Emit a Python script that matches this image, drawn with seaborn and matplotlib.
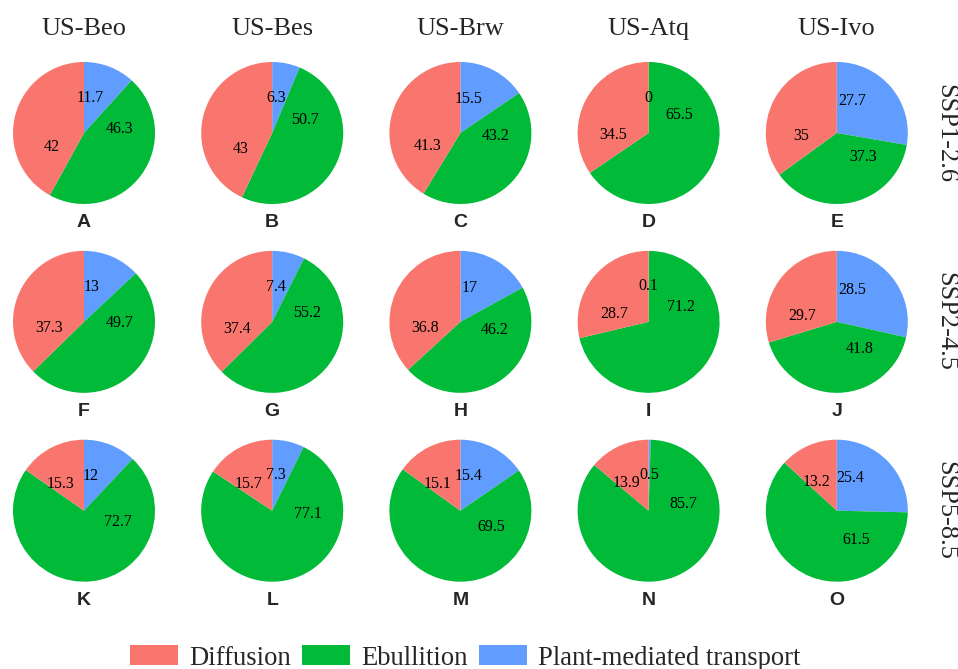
import numpy as np
import matplotlib
matplotlib.use("Agg")
import matplotlib.pyplot as plt
import seaborn as sns
from matplotlib.patches import Patch

# data (percent of CH4 emission by pathway)
sites = ["US-Beo", "US-Bes", "US-Brw", "US-Atq", "US-Ivo"]
scenarios = ["SSP1-2.6", "SSP2-4.5", "SSP5-8.5"]
components = ["Diffusion", "Ebullition", "Plant-mediated transport"]
panel_letters = list("ABCDEFGHIJKLMNO")

diffusion = [[42, 43, 41.3, 34.5, 35],
             [37.3, 37.4, 36.8, 28.7, 29.7],
             [15.3, 15.7, 15.1, 13.9, 13.2]]
ebullition = [[46.3, 50.7, 43.2, 65.5, 37.3],
              [49.7, 55.2, 46.2, 71.2, 41.8],
              [72.7, 77.1, 69.5, 85.7, 61.5]]
plant = [[11.7, 6.3, 15.5, 0, 27.7],
         [13, 7.4, 17, 0.1, 28.5],
         [12, 7.3, 15.4, 0.5, 25.4]]

sns.set_theme(style="white")
plt.rcParams['font.family'] = ['Liberation Serif', 'DejaVu Serif']

# ggplot-like hue palette
red, green, blue = "#F8766D", "#00BA38", "#619CFF"
palette = {"Diffusion": red, "Ebullition": green, "Plant-mediated transport": blue}

W, H = 958, 669
fig = plt.figure(figsize=(W / 100, H / 100), dpi=100)

R = 71          # pie radius in px
x0, dx = 84, 188.2
y0, dy = 133, 188.85

for i, scen in enumerate(scenarios):
    cy = y0 + dy * i
    for j, site in enumerate(sites):
        cx = x0 + dx * j
        ax = fig.add_axes([(cx - R) / W, (H - cy - R) / H, 2 * R / W, 2 * R / H])
        vals = [plant[i][j], ebullition[i][j], diffusion[i][j]]
        cols = [palette["Plant-mediated transport"], palette["Ebullition"], palette["Diffusion"]]
        ax.pie(vals, colors=cols, startangle=90, counterclock=False, radius=1,
               wedgeprops=dict(linewidth=0))
        ax.set_xlim(-1, 1)
        ax.set_ylim(-1, 1)
        ax.set_aspect('equal')
        ax.axis('off')

        # labels sit a quarter of the way into each slice, at half radius
        total = sum(vals)
        start = 0.0
        for v in vals:
            theta = 2 * np.pi * (start + 0.25 * v) / total
            ax.text(0.5 * np.sin(theta), 0.5 * np.cos(theta), f"{v:g}",
                    ha='center', va='center', fontsize=11.5, color='black')
            start += v

        fig.text(cx / W, (H - (cy + R + 23.3)) / H, panel_letters[i * 5 + j],
                 ha='center', va='baseline', fontsize=14, fontweight='bold',
                 family=['Liberation Sans', 'DejaVu Sans'])

    fig.text(945 / W, (H - cy) / H, scen, rotation=270, ha='center', va='center',
             fontsize=19)

for j, site in enumerate(sites):
    fig.text((x0 + dx * j) / W, (H - 35) / H, site, ha='center', va='baseline',
             fontsize=19)

handles = [Patch(facecolor=palette[c], edgecolor='none', label=c) for c in components]
fig.legend(handles=handles, loc='center', bbox_to_anchor=(465.2 / W, (H - 658) / H),
           ncol=3, frameon=False, fontsize=19.2, handlelength=1.8, handleheight=0.75,
           handletextpad=0.41, columnspacing=0.43, borderpad=0.2)

fig.savefig("out.png", dpi=100)
